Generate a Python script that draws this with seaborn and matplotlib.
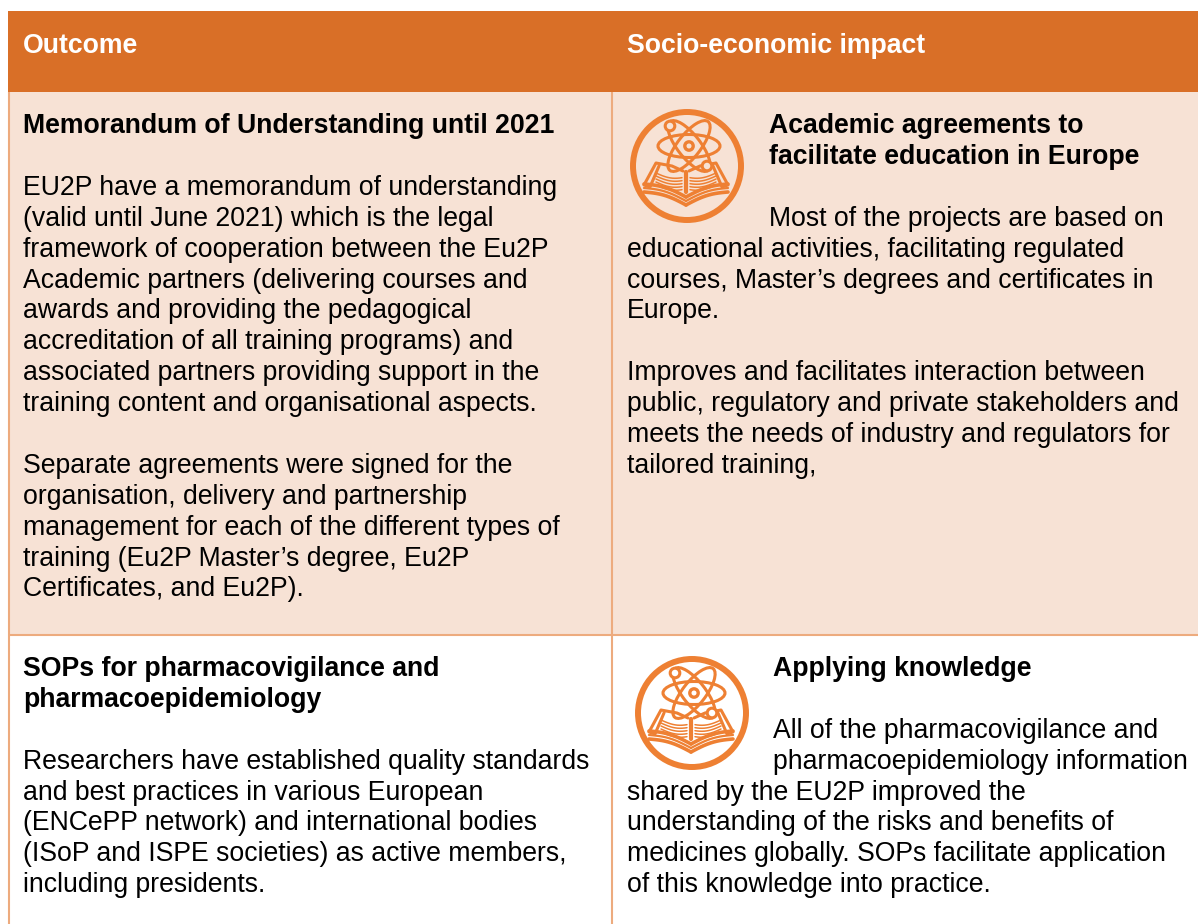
import numpy as np
import matplotlib
matplotlib.use("Agg")
import matplotlib.pyplot as plt
from matplotlib.patches import Rectangle, Circle, Ellipse
import seaborn as sns

# ── Table content ─────────────────────────────────────────────────────────────
header_left = "Outcome"
header_right = "Socio-economic impact"

row1_left_title = ["Memorandum of Understanding until 2021"]
row1_left_body = [
    "",
    "EU2P have a memorandum of understanding",
    "(valid until June 2021) which is the legal",
    "framework of cooperation between the Eu2P",
    "Academic partners (delivering courses and",
    "awards and providing the pedagogical",
    "accreditation of all training programs) and",
    "associated partners providing support in the",
    "training content and organisational aspects.",
    "",
    "Separate agreements were signed for the",
    "organisation, delivery and partnership",
    "management for each of the different types of",
    "training (Eu2P Master\u2019s degree, Eu2P",
    "Certificates, and Eu2P).",
]
row1_right_title = ["Academic agreements to", "facilitate education in Europe"]
row1_right_indented = ["", "Most of the projects are based on"]
row1_right_body = [
    "educational activities, facilitating regulated",
    "courses, Master\u2019s degrees and certificates in",
    "Europe.",
    "",
    "Improves and facilitates interaction between",
    "public, regulatory and private stakeholders and",
    "meets the needs of industry and regulators for",
    "tailored training,",
]

row2_left_title = ["SOPs for pharmacovigilance and", "pharmacoepidemiology"]
row2_left_body = [
    "",
    "Researchers have established quality standards",
    "and best practices in various European",
    "(ENCePP network) and international bodies",
    "(ISoP and ISPE societies) as active members,",
    "including presidents.",
]
row2_right_title = ["Applying knowledge"]
row2_right_indented = ["", "All of the pharmacovigilance and",
                       "pharmacoepidemiology information"]
row2_right_body = [
    "shared by the EU2P improved the",
    "understanding of the risks and benefits of",
    "medicines globally. SOPs facilitate application",
    "of this knowledge into practice.",
]

# ── Style ─────────────────────────────────────────────────────────────────────
HEADER = "#D96F27"
BAND = "#F7E2D5"
BORDER = "#EDAB7E"
ICON = "#EE8033"
PITCH = 30.9
FS = 19.15

sns.set_theme(style="white")
plt.rcParams["font.family"] = ["Liberation Sans", "DejaVu Sans"]

fig, ax = plt.subplots(figsize=(11.98, 9.24), dpi=100)
ax.set_position([0, 0, 1, 1])
ax.set_xlim(0, 1198)
ax.set_ylim(924, 0)
ax.axis("off")
sns.despine(ax=ax, left=True, bottom=True)

# ── Cells ─────────────────────────────────────────────────────────────────────
ax.add_patch(Rectangle((8, 11), 1190, 81, fc=HEADER, ec="none", zorder=1))
ax.add_patch(Rectangle((8, 92), 1190, 542, fc=BAND, ec="none", zorder=1))
ax.plot([9, 9], [92, 924], color=BORDER, lw=1.5, zorder=2, solid_capstyle="butt")
ax.plot([612, 612], [92, 924], color=BORDER, lw=1.5, zorder=2, solid_capstyle="butt")
ax.plot([8, 1198], [634.5, 634.5], color=BORDER, lw=1.5, zorder=2, solid_capstyle="butt")


def block(lines, x, first_base, bold=False):
    """Draw lines of text at the document's line pitch, return next baseline."""
    for i, line in enumerate(lines):
        if line:
            ax.text(x, first_base + i * PITCH, line, fontsize=FS, color="black",
                    fontweight="bold" if bold else "normal", va="baseline", ha="left",
                    zorder=4)
    return first_base + len(lines) * PITCH


def icon(cx, cy):
    """Atom over an open book, inside a ring, drawn in pixel offsets."""
    bg = BAND if cy < 400 else "white"
    ax.add_patch(Circle((cx, cy), 54, fc="none", ec=ICON, lw=4.3, zorder=3))
    ac = (cx + 2, cy - 20)
    for angle in (0, 52, -52):
        ax.add_patch(Ellipse(ac, 62, 23, angle=angle, fc="none", ec=ICON, lw=2.2, zorder=3))
    ax.add_patch(Circle(ac, 4.2, fc="none", ec=ICON, lw=2.4, zorder=3))
    for sign in (-1, 1):
        # pages
        xs = np.linspace(4, 30, 12)
        for k in range(5):
            ys = 11 + k * 3 - (xs / 30) * 4 + 3 * np.sin(xs / 30 * np.pi)
            ax.plot(cx - 1 + sign * xs, cy + ys, color=ICON, lw=1.1, zorder=3)
        # cover outline
        ax.plot([cx - 1 + sign * d for d in (3, 14, 30, 42, 36, 27)],
                [cy + v for v in (5, 0, -3, 19, 21, 0)], color=ICON, lw=2.2, zorder=3)
        # base of the book
        xs = np.linspace(0, 42, 14)
        for k, lw in enumerate((2.6, 1.6, 2.6)):
            ys = 31 + k * 4 - (xs / 42) * 13 - 3 * np.sin(xs / 42 * np.pi)
            ax.plot(cx - 1 + sign * xs, cy + ys, color=ICON, lw=lw, zorder=3)
    ax.plot([cx - 1, cx - 1], [cy + 6, cy + 26], color=ICON, lw=3.0, zorder=3)
    for dx, dy in ((-17, -40), (20, 0)):
        ax.add_patch(Circle((cx + dx, cy + dy), 4.8, fc=bg, ec=ICON, lw=2.2, zorder=4))


# ── Header ────────────────────────────────────────────────────────────────────
ax.text(23, 46, header_left, fontsize=FS, color="white", fontweight="bold",
        va="center", zorder=4)
ax.text(627, 46, header_right, fontsize=FS, color="white", fontweight="bold",
        va="center", zorder=4)

# ── Row 1 ─────────────────────────────────────────────────────────────────────
next_y = block(row1_left_title, 23, 133, bold=True)
block(row1_left_body, 23, next_y)

icon(687, 166)
next_y = block(row1_right_title, 769, 133, bold=True)
next_y = block(row1_right_indented, 769, next_y)
block(row1_right_body, 627, next_y)

# ── Row 2 ─────────────────────────────────────────────────────────────────────
next_y = block(row2_left_title, 23, 676, bold=True)
block(row2_left_body, 23, next_y)

icon(692, 713)
next_y = block(row2_right_title, 773, 676, bold=True)
next_y = block(row2_right_indented, 773, next_y)
block(row2_right_body, 627, next_y)

fig.savefig("out.png", dpi=100, facecolor="white")
plt.close(fig)
